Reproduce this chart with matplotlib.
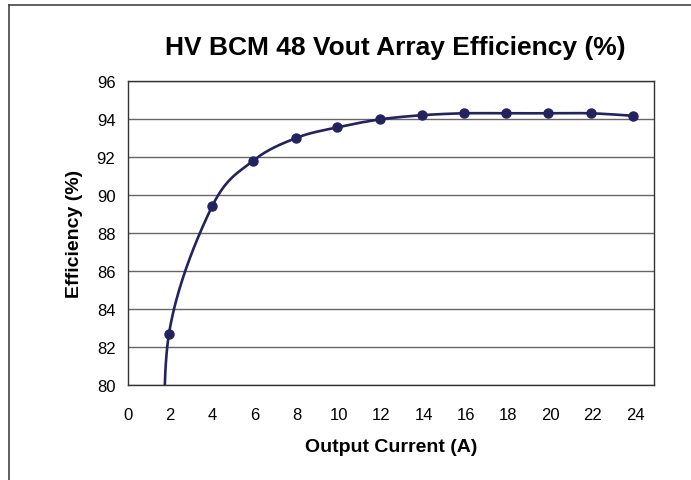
import numpy as np
import matplotlib
matplotlib.use('Agg')
import matplotlib.pyplot as plt
from matplotlib.lines import Line2D

plt.rcParams['font.family'] = ['Liberation Sans', 'DejaVu Sans']

# measured load points (first one lies below the plotted range)
current = [1.75, 1.94, 3.98, 5.92, 7.96, 9.9, 11.94, 13.93, 15.92, 17.9, 19.9, 21.9, 23.9]
efficiency = [74.0, 82.7, 89.4, 91.8, 93.0, 93.56, 93.98, 94.2, 94.3, 94.3, 94.3, 94.3, 94.17]

x_ticks = list(range(0, 25, 2))
y_ticks = list(range(80, 97, 2))
line_color = '#23235f'


def smooth_curve(xs, ys, n=40):
    # bezier smoothing through the points (like a spreadsheet smoothed line)
    p = np.column_stack([xs, ys]).astype(float)
    pts = []
    for i in range(len(p) - 1):
        p0 = p[i - 1] if i > 0 else p[i]
        p1 = p[i]
        p2 = p[i + 1]
        p3 = p[i + 2] if i + 2 < len(p) else p[i + 1]
        c1 = p1 + (p2 - p0) / 6.0
        c2 = p2 - (p3 - p1) / 6.0
        t = np.linspace(0, 1, n)[:, None]
        seg = ((1 - t) ** 3) * p1 + 3 * ((1 - t) ** 2) * t * c1 + 3 * (1 - t) * t ** 2 * c2 + t ** 3 * p2
        pts.append(seg)
    pts = np.vstack(pts)
    return pts[:, 0], pts[:, 1]


fig = plt.figure(figsize=(6.91, 4.81), dpi=100)
ax = fig.add_axes([128 / 691, 1 - 386 / 481, (654 - 128) / 691, (386 - 82) / 481])

sx, sy = smooth_curve(current, efficiency)
ax.plot(sx, sy, color=line_color, lw=1.9, zorder=3)
ax.plot(current, efficiency, 'o', color=line_color, ms=6.5, zorder=4)

ax.set_xlim(0, 24.9)
ax.set_ylim(80, 96)
ax.set_xticks(x_ticks)
ax.set_yticks(y_ticks)
ax.yaxis.grid(True, color='#666666', lw=1.0)
ax.set_axisbelow(True)
ax.tick_params(axis='both', length=0, labelsize=12)
ax.tick_params(axis='x', pad=16)
ax.tick_params(axis='y', pad=9)
for s in ax.spines.values():
    s.set_color('#333333')
    s.set_linewidth(1.0)

ax.set_xlabel('Output Current (A)', fontsize=14, fontweight='bold', labelpad=11)
ax.set_ylabel('Efficiency (%)', fontsize=14, fontweight='bold', labelpad=10)
fig.text(395 / 691, 1 - 48 / 481, 'HV BCM 48 Vout Array Efficiency (%)',
         ha='center', va='center', fontsize=19, fontweight='bold')

# outer chart border (only top and left edges show)
fig.add_artist(Line2D([9 / 691, 1], [1 - 6 / 481, 1 - 6 / 481], transform=fig.transFigure, color='#444444', lw=1.2))
fig.add_artist(Line2D([9 / 691, 9 / 691], [0, 1 - 6 / 481], transform=fig.transFigure, color='#444444', lw=1.2))

fig.savefig('out.png', dpi=100)
